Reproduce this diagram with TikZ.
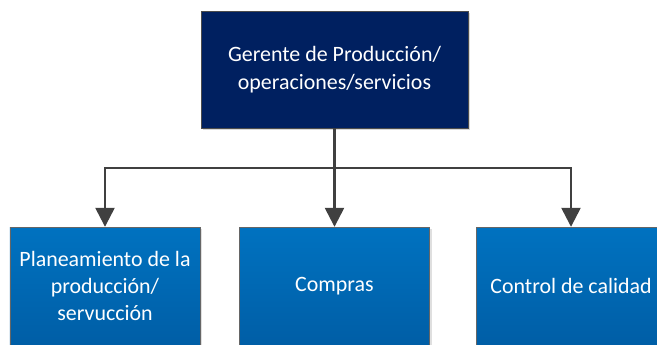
\documentclass[tikz,border=0pt]{standalone}
\usepackage{fontspec}
\setmainfont{Carlito}
\usetikzlibrary{positioning,arrows.meta,shadows}
\definecolor{navy}{RGB}{0,32,96}
\definecolor{areatop}{RGB}{0,114,192}
\definecolor{areabot}{RGB}{0,94,166}
\definecolor{linegray}{RGB}{64,64,64}
\tikzstyle{boss} = [rectangle, draw=black!70, fill=navy, text=white, align=center, font=\fontsize{22}{28}\selectfont, minimum width=267bp, minimum height=117bp, drop shadow={shadow xshift=2bp, shadow yshift=-2bp, fill=black!30}]
\tikzstyle{area} = [rectangle, draw=black!60, top color=areatop, bottom color=areabot, text=white, align=center, font=\fontsize{22}{27}\selectfont, minimum width=190bp, minimum height=118bp, drop shadow={shadow xshift=2bp, shadow yshift=-2bp, fill=black!25}]
\tikzstyle{line} = [draw=linegray, line width=2.5bp, -{Triangle[width=19bp,length=19bp]}]

\begin{document}
\begin{tikzpicture}[x=1bp, y=-1bp]
	\useasboundingbox (0,0) rectangle (657,344);
	\node [boss] (gerente) at (334.5,69.5) {Gerente de Producción/\\operaciones/servicios};
	\node [area] (planeamiento) at (105,286) {Planeamiento de la\\producción/\\servucción};
	\node [area] (compras) at (334.5,286) {Compras};
	\node [area] (control) at (571,286) {Control de calidad};
	\coordinate (branch) at (334.5,168);
	
	\path[line] (gerente) -- (compras);
	\path[line] (branch) -| (planeamiento);
	\path[line] (branch) -| (control);
\end{tikzpicture}
\end{document}
